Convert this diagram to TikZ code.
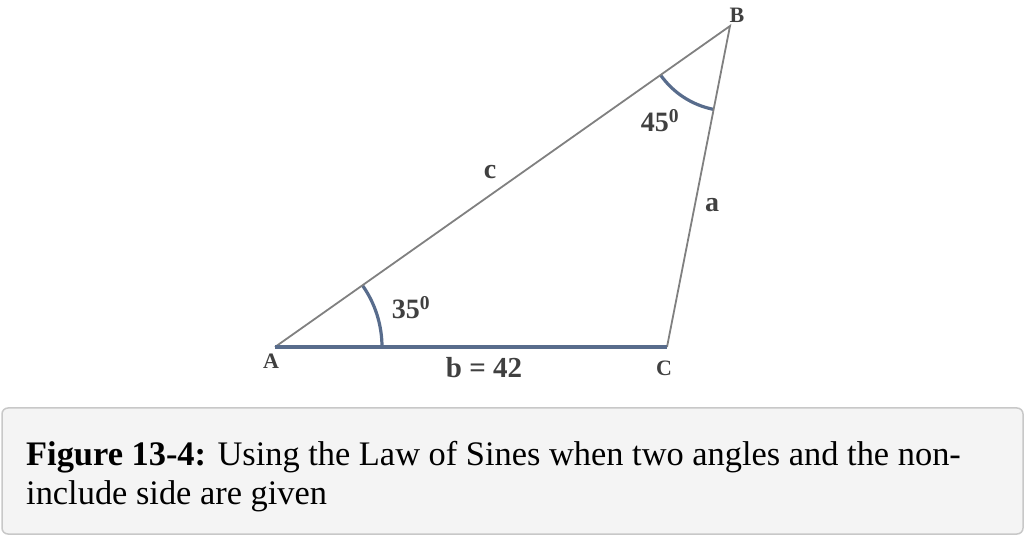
\documentclass[tikz,border=0pt]{standalone}
\usepackage{fontspec}
\setmainfont{Liberation Serif}
\usetikzlibrary{angles}
\definecolor{sideg}{RGB}{128,128,128}
\definecolor{slate}{RGB}{88,108,140}
\definecolor{lbl}{RGB}{64,64,64}
\definecolor{capfill}{RGB}{244,244,244}
\definecolor{capdraw}{RGB}{200,200,200}
\tikzset{
  side/.style={draw=sideg, line width=1.8pt},
  baseside/.style={draw=slate, line width=3.6pt},
  anglearc/.style={draw=slate, line width=3.2pt},
  vlabel/.style={font=\fontsize{22}{24}\selectfont\bfseries, text=lbl, inner sep=0pt},
  slabel/.style={font=\fontsize{28}{30}\selectfont\bfseries, text=lbl, inner sep=0pt},
  captext/.style={font=\fontsize{34.4}{38}\selectfont, anchor=base west, inner sep=0pt}
}
\begin{document}
\begin{tikzpicture}[x=1pt,y=1pt]
\useasboundingbox (0,0) rectangle (1024,535);
\coordinate (A) at (275,188);
\coordinate (C) at (667,188);
\coordinate (B) at (730,509);
% angle arcs
\pic[anglearc, angle radius=107pt] {angle = C--A--B};
\pic[anglearc, angle radius=85pt] {angle = A--B--C};
% sides
\draw[side] (A) -- (B) -- (C);
\draw[baseside] (A) -- (C);
% vertex labels
\node[vlabel] (lA) at (271,174) {A};
\node[vlabel] (lB) at (737,520) {B};
\node[vlabel] (lC) at (664,167) {C};
% side labels
\node[slabel] (lc) at (490,363) {c};
\node[slabel] (la) at (712,330) {a};
\node[slabel, font=\fontsize{29}{30}\selectfont\bfseries] (lb) at (484,167) {b = 42};
\node[slabel] (l35) at (411,227) {35\textsuperscript{0}};
\node[slabel] (l45) at (660,414) {45\textsuperscript{0}};
% caption
\node[draw=capdraw, fill=capfill, line width=1.5pt, rounded corners=6pt, minimum width=1021pt, minimum height=126pt, inner sep=0pt] (capbox) at (512.5,64) {};
\node[captext] (cap1) at (26,70) {\textbf{Figure 13-4:} Using the Law of Sines when two angles and the non-};
\node[captext] (cap2) at (26,31) {include side are given};
\end{tikzpicture}
\end{document}
